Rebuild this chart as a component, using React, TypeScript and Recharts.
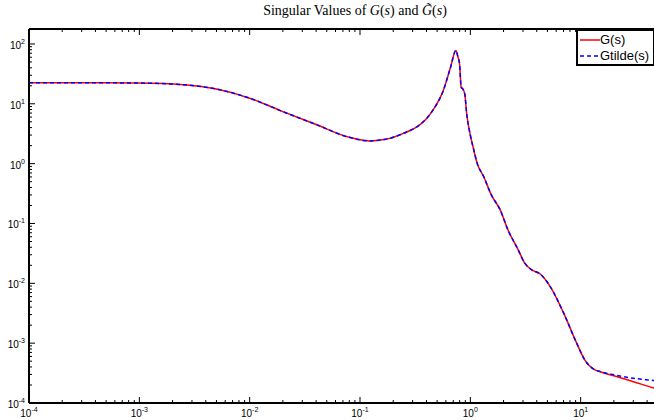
import React from 'react';
import { LineChart, Line, XAxis, YAxis } from 'recharts';

// frequency (rad/s) and singular values
const freq = [
  1e-4, 3e-4, 1e-3, 2.5e-3, 5e-3, 0.01, 0.02, 0.04, 0.08, 0.12, 0.17, 0.25, 0.35, 0.4, 0.46, 0.57,
  0.66, 0.74, 0.77, 0.8, 0.825, 0.86, 0.89, 0.93, 1.0, 1.07, 1.15, 1.32, 1.55, 1.86, 2.2, 2.7, 3.1,
  3.6, 4.3, 5.3, 7.0, 9.2, 11, 13.1, 15, 20, 30, 46, 100,
];
const gSigma = [
  22.5, 22.5, 22.2, 20.8, 17.6, 12.4, 7.4, 4.5, 2.75, 2.4, 2.55, 3.23, 4.5, 5.65, 7.9, 16.8,
  40, 78, 62, 45, 19, 17.3, 14.5, 6.5, 3.0, 1.75, 1.03, 0.61, 0.3, 0.17, 0.077, 0.037, 0.022,
  0.0168, 0.0143, 0.0088, 0.0032, 0.001, 5.1e-4, 3.67e-4, 3.33e-4, 2.85e-4, 2.27e-4, 1.78e-4, 1.2e-4,
];
const gtildeSigma = [
  22.5, 22.5, 22.2, 20.8, 17.6, 12.4, 7.4, 4.5, 2.75, 2.4, 2.55, 3.23, 4.5, 5.65, 7.9, 16.8,
  40, 78, 62, 45, 19, 17.3, 14.5, 6.5, 3.0, 1.75, 1.03, 0.61, 0.3, 0.17, 0.077, 0.037, 0.022,
  0.0168, 0.0143, 0.0088, 0.0032, 0.001, 5.1e-4, 3.67e-4, 3.35e-4, 2.97e-4, 2.59e-4, 2.38e-4, 1.95e-4,
];
const seriesNames = ['G(s)', 'Gtilde(s)'];

const xDecades = [-4, -3, -2, -1, 0, 1];
const yDecades = [-4, -3, -2, -1, 0, 1];
const mantissas = [1, 2, 3, 4, 5, 6, 7, 8, 9];

const xTicks = [...xDecades.flatMap((d) => mantissas.map((m) => m * Math.pow(10, d))), 100];
const yTicks = [...yDecades.flatMap((d) => mantissas.map((m) => m * Math.pow(10, d))), 100];

const rows = freq.map((f, i) => ({ f, g: gSigma[i], gt: gtildeSigma[i] }));

const font = '"Liberation Sans", Arial, Helvetica, sans-serif';

const isMajor = (v: number) => Math.abs(Math.log10(v) - Math.round(Math.log10(v))) < 1e-9;

const Pow = ({ v, x, y, anchor }: any) => (
  <text x={x} y={y} textAnchor={anchor} fontFamily={font} fontSize={10} fill="#000">
    <tspan>10</tspan>
    <tspan dy={-5} fontSize={7}>{Math.round(Math.log10(v))}</tspan>
  </text>
);

const BottomTick = ({ x, y, payload }: any) => {
  const major = isMajor(payload.value);
  return (
    <g>
      <line x1={x} y1={y} x2={x} y2={y - (major ? 6 : 3)} stroke="#000" strokeWidth={1} />
      {/* the 10^2 label falls outside the cropped figure */}
      {major && x < 640 && <Pow v={payload.value} x={x} y={y + 14} anchor="middle" />}
    </g>
  );
};

const TopTick = ({ x, y, payload }: any) => {
  const major = isMajor(payload.value);
  return <line x1={x} y1={y} x2={x} y2={y + (major ? 6 : 3)} stroke="#000" strokeWidth={1} />;
};

const LeftTick = ({ x, y, payload }: any) => {
  const major = isMajor(payload.value);
  return (
    <g>
      <line x1={x} y1={y} x2={x + (major ? 6 : 3)} y2={y} stroke="#000" strokeWidth={1} />
      {major && <Pow v={payload.value} x={x - 4} y={y + 5} anchor="end" />}
    </g>
  );
};

const App = () => {
  return (
    <div
      style={{
        position: 'absolute',
        left: 0,
        top: 0,
        width: 654,
        height: 420,
        overflow: 'hidden',
        background: '#fff',
      }}
    >
      <LineChart width={720} height={420} data={rows} margin={{ top: 0, right: 29, bottom: 0, left: 0 }}>
        <XAxis
          dataKey="f"
          type="number"
          scale="log"
          domain={[1e-4, 100]}
          allowDataOverflow
          ticks={xTicks}
          interval={0}
          height={17}
          tickSize={0}
          tickMargin={0}
          tickLine={false}
          axisLine={{ stroke: '#000', strokeWidth: 2 }}
          tick={BottomTick}
        />
        <XAxis
          xAxisId="top"
          orientation="top"
          dataKey="f"
          type="number"
          scale="log"
          domain={[1e-4, 100]}
          allowDataOverflow
          ticks={xTicks}
          interval={0}
          height={29}
          tickSize={0}
          tickMargin={0}
          tickLine={false}
          axisLine={{ stroke: '#000', strokeWidth: 2 }}
          tick={TopTick}
        />
        <YAxis
          type="number"
          scale="log"
          domain={[1e-4, 177.8]}
          allowDataOverflow
          ticks={yTicks}
          interval={0}
          width={29}
          tickSize={0}
          tickMargin={0}
          tickLine={false}
          axisLine={{ stroke: '#000', strokeWidth: 2 }}
          tick={LeftTick}
        />
        <Line
          dataKey="g"
          name={seriesNames[0]}
          type="monotone"
          stroke="#ff0000"
          strokeWidth={1.5}
          dot={false}
          isAnimationActive={false}
        />
        <Line
          dataKey="gt"
          name={seriesNames[1]}
          type="monotone"
          stroke="#0000ff"
          strokeWidth={1.5}
          strokeDasharray="4 3"
          dot={false}
          isAnimationActive={false}
        />
      </LineChart>

      <div
        style={{
          position: 'absolute',
          left: 0,
          top: 3,
          width: 710,
          textAlign: 'center',
          fontFamily: '"Liberation Serif", "Times New Roman", serif',
          fontSize: 14,
          lineHeight: '16px',
          color: '#000',
        }}
      >
        Singular Values of <i>G</i>(<i>s</i>) and <i>G&#771;</i>(<i>s</i>)
      </div>

      <div
        style={{
          position: 'absolute',
          left: 576,
          top: 29,
          width: 79,
          height: 37,
          boxSizing: 'border-box',
          border: '2px solid #000',
          background: '#fff',
          fontFamily: font,
          fontSize: 13,
        }}
      >
        {[
          { name: seriesNames[0], color: '#ff0000', dash: undefined },
          { name: seriesNames[1], color: '#0000ff', dash: '4 3' },
        ].map((s, i) => (
          <div key={s.name} style={{ position: 'absolute', left: 1, top: 2 + i * 16, height: 14, display: 'flex', alignItems: 'center' }}>
            <svg width={21} height={14}>
              <line x1={1} y1={7} x2={21} y2={7} stroke={s.color} strokeWidth={1.5} strokeDasharray={s.dash} />
            </svg>
            <span style={{ lineHeight: '14px', whiteSpace: 'nowrap' }}>{s.name}</span>
          </div>
        ))}
      </div>
    </div>
  );
};

export default App;
